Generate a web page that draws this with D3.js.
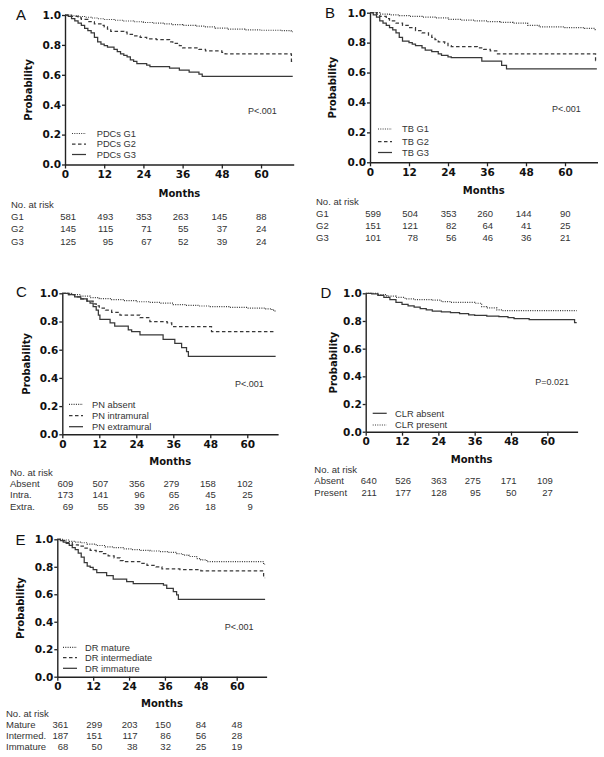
<!DOCTYPE html>
<html><head><meta charset="utf-8">
<script src="https://cdn.jsdelivr.net/npm/d3@7"></script>
<style>body{margin:0;background:#fff}svg{display:block}</style>
</head><body>
<svg id="chart" width="604" height="757"></svg>
<script>
// ---------- DATA ----------
const monthTicks = [0, 12, 24, 36, 48, 60];
const probTicks = [0, 0.2, 0.4, 0.6, 0.8, 1.0];
const maxMonth = 70;

// Panel A: PDCs grade
const pdcLabels = ["PDCs G1", "PDCs G2", "PDCs G3"];
const pdcRowLabels = ["G1", "G2", "G3"];
const pdcG1 = [[0,1],[2,0.995],[4,0.99],[6,0.985],[8,0.98],[10,0.975],[12,0.97],[15,0.965],[18,0.96],[21,0.955],[24,0.95],[27,0.945],[30,0.94],[33,0.935],[36,0.93],[40,0.925],[43,0.92],[46,0.912],[50,0.905],[55,0.9],[60,0.898],[66,0.895],[69.2,0.888],[69.7,0.888]];
const pdcG2 = [[0,1],[2,0.99],[4,0.98],[5,0.97],[7,0.955],[9,0.94],[11,0.93],[12,0.92],[13,0.905],[14,0.89],[18,0.885],[19,0.87],[21,0.86],[23,0.85],[25,0.84],[28,0.835],[32,0.82],[33,0.81],[35,0.795],[36,0.78],[41,0.77],[43,0.76],[48,0.75],[49,0.74],[69.3,0.69],[69.7,0.69]];
const pdcG3 = [[0,1],[1,0.99],[2,0.975],[3,0.96],[4,0.945],[5,0.93],[6,0.91],[7,0.895],[8,0.88],[9,0.85],[10,0.82],[11,0.805],[12,0.795],[13,0.785],[15,0.77],[16,0.755],[17,0.74],[18,0.73],[19,0.72],[20,0.7],[21,0.69],[22,0.675],[25,0.665],[26,0.655],[32,0.645],[35,0.632],[38,0.618],[41,0.605],[42,0.59],[69.7,0.59]];
const riskPdcG1 = [581, 493, 353, 263, 145, 88];
const riskPdcG2 = [145, 115, 71, 55, 37, 24];
const riskPdcG3 = [125, 95, 67, 52, 39, 24];

// Panel B: TB grade
const tbLabels = ["TB G1", "TB G2", "TB G3"];
const tbRowLabels = ["G1", "G2", "G3"];
const tbG1 = [[0,1],[3,0.99],[6,0.985],[9,0.98],[12,0.975],[16,0.97],[20,0.965],[24,0.955],[28,0.95],[32,0.945],[36,0.94],[40,0.935],[44,0.93],[48.5,0.915],[52,0.905],[60,0.9],[66,0.895],[69.3,0.887],[69.8,0.887]];
const tbG2 = [[0,1],[2,0.99],[3,0.975],[5,0.96],[6,0.945],[8,0.93],[10,0.915],[12,0.9],[14,0.88],[16,0.865],[18,0.85],[19,0.835],[20,0.82],[21,0.805],[23,0.795],[24,0.78],[25,0.773],[33,0.765],[35,0.755],[37,0.745],[39,0.725],[69.4,0.68],[69.8,0.68]];
const tbG3 = [[0,1],[1,0.985],[2,0.97],[3,0.945],[4,0.93],[5,0.915],[6,0.9],[7,0.885],[8,0.865],[9,0.835],[10,0.81],[12,0.8],[13,0.79],[14,0.78],[16,0.765],[17,0.75],[19,0.74],[21,0.725],[22,0.715],[24,0.705],[25,0.7],[34.4,0.677],[40.5,0.648],[42,0.624],[69.8,0.624]];
const riskTbG1 = [599, 504, 353, 260, 144, 90];
const riskTbG2 = [151, 121, 82, 64, 41, 25];
const riskTbG3 = [101, 78, 56, 46, 36, 21];

// Panel C: PN
const pnLabels = ["PN absent", "PN intramural", "PN extramural"];
const pnRowLabels = ["Absent", "Intra.", "Extra."];
const pnAbsent = [[0,1],[3,0.99],[6,0.98],[9,0.97],[12,0.962],[16,0.955],[20,0.948],[24,0.94],[28,0.935],[32,0.93],[36,0.92],[40,0.915],[44,0.91],[48,0.905],[54,0.9],[60,0.895],[66,0.89],[68,0.88],[69,0.87],[69.2,0.87]];
const pnIntra = [[0,1],[2,0.99],[4,0.975],[6,0.96],[8,0.945],[10,0.925],[11,0.91],[12,0.895],[14,0.88],[16,0.865],[18.7,0.846],[25.2,0.827],[28.4,0.8],[34,0.79],[35.5,0.764],[48.4,0.728],[69.2,0.728]];
const pnExtra = [[0,1],[2,0.99],[4,0.975],[6,0.96],[8,0.945],[9,0.93],[10,0.905],[11,0.88],[11.7,0.846],[12.2,0.815],[15.5,0.79],[17,0.768],[21.4,0.74],[22.5,0.728],[25.2,0.705],[32.7,0.674],[36.5,0.645],[38.7,0.615],[40.3,0.586],[40.9,0.553],[69.2,0.553]];
const riskPnAbsent = [609, 507, 356, 279, 158, 102];
const riskPnIntra = [173, 141, 96, 65, 45, 25];
const riskPnExtra = [69, 55, 39, 26, 18, 9];

// Panel D: CLR
const clrLabels = ["CLR absent", "CLR present"];
const clrRowLabels = ["Absent", "Present"];
const clrAbsent = [[0,1],[2,0.995],[4,0.985],[6,0.97],[8,0.955],[10,0.935],[12,0.92],[14,0.91],[16,0.9],[18,0.89],[20,0.88],[22,0.872],[25,0.865],[28,0.86],[31,0.853],[34,0.845],[36,0.84],[40,0.835],[44,0.831],[47,0.825],[49,0.817],[54,0.81],[69,0.788],[69.7,0.788]];
const clrPresent = [[0,1],[4,0.99],[7,0.98],[10,0.97],[13,0.96],[16,0.955],[22,0.95],[25,0.94],[28,0.935],[36,0.928],[38.3,0.904],[40,0.895],[43.3,0.88],[45,0.875],[69.7,0.875]];
const riskClrAbsent = [640, 526, 363, 275, 171, 109];
const riskClrPresent = [211, 177, 128, 95, 50, 27];

// Panel E: DR
const drLabels = ["DR mature", "DR intermediate", "DR immature"];
const drRowLabels = ["Mature", "Intermed.", "Immature"];
const drMature = [[0,1],[2,0.995],[4,0.985],[6,0.98],[8,0.975],[10,0.965],[13,0.955],[16,0.945],[19,0.94],[22,0.93],[25,0.925],[28,0.92],[31,0.915],[34,0.91],[37,0.905],[40,0.895],[42,0.885],[44,0.875],[46.6,0.86],[48,0.85],[50,0.837],[69,0.818],[69.5,0.818]];
const drIntermediate = [[0,1],[1,0.99],[3,0.975],[5,0.96],[7,0.95],[9,0.935],[11,0.92],[13,0.91],[15,0.895],[17,0.88],[19,0.865],[21,0.845],[22,0.837],[28,0.825],[30,0.81],[33,0.8],[35,0.785],[41,0.78],[48,0.77],[69,0.72],[69.5,0.72]];
const drImmature = [[0,1],[1,0.99],[2,0.98],[3,0.97],[4,0.955],[5,0.94],[6,0.925],[7,0.9],[8,0.87],[9,0.83],[10,0.805],[11,0.795],[12,0.78],[13.2,0.757],[16.5,0.735],[18.7,0.711],[23.2,0.692],[25.4,0.677],[35.5,0.667],[36.6,0.643],[38.8,0.619],[39.9,0.595],[40.5,0.563],[69.5,0.563]];
const riskDrMature = [361, 299, 203, 150, 84, 48];
const riskDrIntermediate = [187, 151, 117, 86, 56, 28];
const riskDrImmature = [68, 50, 38, 32, 25, 19];

const pValues = ["P<.001", "P<.001", "P<.001", "P=0.021", "P<.001"];

// ---------- LAYOUT (positions only) ----------
const panels = [
  {letter:"A", x0:65, x1:293.7, yTop:15, yBot:164.5, lx:16, ly:15, probX:28, monthsY:193,
   tabX:11, tabTitleY:205, rowY:[216.7,229,241.7], legX:72, legTextX:96.7, legY:[133.5,144,154.5],
   series:[pdcG1,pdcG2,pdcG3], styles:["dot","dash","solid"], labels:pdcLabels, rows:pdcRowLabels,
   risk:[riskPdcG1,riskPdcG2,riskPdcG3], p:pValues[0]},
  {letter:"B", x0:370, x1:597.5, yTop:12.7, yBot:162.3, lx:325, ly:13, probX:332, monthsY:190,
   tabX:316, tabTitleY:202, rowY:[214,225.7,237.7], legX:378, legTextX:402, legY:[129,141.5,152.5],
   series:[tbG1,tbG2,tbG3], styles:["dot","dash","solid"], labels:tbLabels, rows:tbRowLabels,
   risk:[riskTbG1,riskTbG2,riskTbG3], p:pValues[1]},
  {letter:"C", x0:62.3, x1:278.1, yTop:293.3, yBot:434.3, lx:16, ly:292, probX:26, monthsY:461.7,
   tabX:10, tabTitleY:472.7, rowY:[483.7,495,506.7], legX:69, legTextX:92, legY:[404.3,415.7,426.7],
   series:[pnAbsent,pnIntra,pnExtra], styles:["dot","dash","solid"], labels:pnLabels, rows:pnRowLabels,
   risk:[riskPnAbsent,riskPnIntra,riskPnExtra], p:pValues[2]},
  {letter:"D", x0:365.7, x1:577.6, yTop:293.3, yBot:431.7, lx:320.5, ly:293, probX:333, monthsY:459,
   tabX:314.3, tabTitleY:469.3, rowY:[480.7,492.3], legX:372.7, legTextX:395, legY:[413.3,425],
   series:[clrAbsent,clrPresent], styles:["solid","dot"], labels:clrLabels, rows:clrRowLabels,
   risk:[riskClrAbsent,riskClrPresent], p:pValues[3]},
  {letter:"E", x0:57.3, x1:266.6, yTop:539.3, yBot:676.7, lx:15.5, ly:540, probX:20.7, monthsY:703.3,
   tabX:6, tabTitleY:714, rowY:[724.3,735.7,746.7], legX:63, legTextX:85, legY:[647.3,657.7,668.3],
   series:[drMature,drIntermediate,drImmature], styles:["dot","dash","solid"], labels:drLabels, rows:drRowLabels,
   risk:[riskDrMature,riskDrIntermediate,riskDrImmature], p:pValues[4]}
];
const numShift = [11, 9, 8.5, 6, 5.5, 5.5];
const dashFor = {dot:"1,1.3", dash:"3.5,2.5", solid:null};
const lineColor = "#383838";
const boldFont = "'DejaVu Sans', Verdana, sans-serif";
const textFont = "'Liberation Sans', Arial, sans-serif";

const svg = d3.select("#chart");

panels.forEach(cfg => {
  const x = d3.scaleLinear().domain([0, maxMonth]).range([cfg.x0, cfg.x1]);
  const y = d3.scaleLinear().domain([0, 1]).range([cfg.yBot, cfg.yTop]);
  const g = svg.append("g");

  // curves
  const line = d3.line().x(d => x(d[0])).y(d => y(d[1])).curve(d3.curveStepAfter);
  cfg.series.forEach((s, i) => {
    const st = cfg.styles[i];
    g.append("path").datum(s).attr("d", line)
      .attr("fill", "none").attr("stroke", lineColor)
      .attr("stroke-width", st === "dot" ? 1.2 : 1.25)
      .attr("stroke-dasharray", dashFor[st]);
  });

  // axes
  const xAxis = d3.axisBottom(x).tickValues(monthTicks).tickSize(4).tickSizeOuter(0).tickPadding(2).tickFormat(d3.format("d"));
  const yAxis = d3.axisLeft(y).tickValues(probTicks).tickSize(3).tickSizeOuter(0).tickPadding(1).tickFormat(d3.format(".1f"));
  const gx = g.append("g").attr("transform", `translate(0,${cfg.yBot})`).call(xAxis);
  const gy = g.append("g").attr("transform", `translate(${cfg.x0},0)`).call(yAxis);
  [gx, gy].forEach(a => {
    a.select(".domain").attr("stroke", "#222").attr("stroke-width", 1.4);
    a.selectAll(".tick line").attr("stroke", "#222").attr("stroke-width", 1.3);
    a.selectAll(".tick text").attr("fill", "#111").style("font-family", boldFont)
      .style("font-weight", "bold").style("font-size", "10.5px");
  });

  // titles
  g.append("text").attr("x", (cfg.x0 + cfg.x1) / 2).attr("y", cfg.monthsY).attr("dy", "0.35em")
    .attr("text-anchor", "middle").style("font-family", boldFont).style("font-weight", "bold")
    .style("font-size", "10px").attr("fill", "#111").text("Months");
  const my = (cfg.yTop + cfg.yBot) / 2;
  g.append("text").attr("transform", `translate(${cfg.probX},${my}) rotate(-90)`).attr("dy", "0.35em")
    .attr("text-anchor", "middle").style("font-family", boldFont).style("font-weight", "bold")
    .style("font-size", "10px").attr("fill", "#111").text("Probability");

  // panel letter
  g.append("text").attr("x", cfg.lx).attr("y", cfg.ly).attr("dy", "0.35em")
    .style("font-family", textFont).style("font-size", "15px").attr("fill", "#111").text(cfg.letter);

  // p value
  g.append("text").attr("x", x(56)).attr("y", y(0.36)).attr("dy", "0.35em")
    .style("font-family", textFont).style("font-size", "9px").attr("fill", "#333").text(cfg.p);

  // legend
  cfg.labels.forEach((lab, i) => {
    const st = cfg.styles[i];
    g.append("line").attr("x1", cfg.legX).attr("x2", cfg.legX + 14)
      .attr("y1", cfg.legY[i]).attr("y2", cfg.legY[i])
      .attr("stroke", lineColor).attr("stroke-width", st === "dot" ? 1.2 : 1.25)
      .attr("stroke-dasharray", dashFor[st]);
    g.append("text").attr("x", cfg.legTextX).attr("y", cfg.legY[i]).attr("dy", "0.35em")
      .style("font-family", textFont).style("font-size", "9.3px").attr("fill", "#333").text(lab);
  });

  // number at risk table
  g.append("text").attr("x", cfg.tabX).attr("y", cfg.tabTitleY).attr("dy", "0.35em")
    .style("font-family", textFont).style("font-size", "9.5px").attr("fill", "#333").text("No. at risk");
  cfg.rows.forEach((rl, i) => {
    g.append("text").attr("x", cfg.tabX).attr("y", cfg.rowY[i]).attr("dy", "0.35em")
      .style("font-family", textFont).style("font-size", "9.5px").attr("fill", "#333").text(rl);
    cfg.risk[i].forEach((n, j) => {
      g.append("text").attr("x", x(monthTicks[j]) + numShift[j]).attr("y", cfg.rowY[i]).attr("dy", "0.35em")
        .attr("text-anchor", "end").style("font-family", textFont).style("font-size", "9.5px")
        .attr("fill", "#333").text(n);
    });
  });
});
</script>
</body></html>
